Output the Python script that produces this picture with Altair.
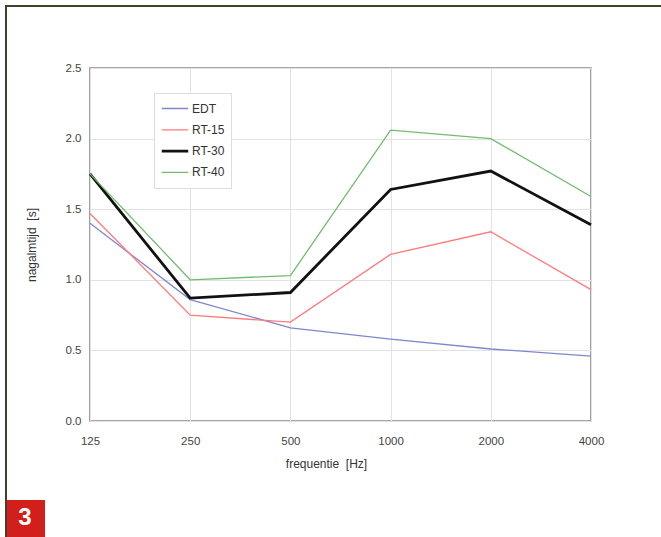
import altair as alt
import pandas as pd

# Octave-band centre frequencies (Hz)
frequencies = ["125", "250", "500", "1000", "2000", "4000"]

# Reverberation parameters per band (s)
edt = [1.40, 0.86, 0.66, 0.58, 0.51, 0.46]
rt15 = [1.47, 0.75, 0.70, 1.18, 1.34, 0.93]
rt30 = [1.75, 0.87, 0.91, 1.64, 1.77, 1.39]
rt40 = [1.75, 1.00, 1.03, 2.06, 2.00, 1.59]

series_names = ["EDT", "RT-15", "RT-30", "RT-40"]
series_colors = ["#7f86d0", "#ff7a7a", "#111111", "#72bb72"]
series_widths = [1.3, 1.3, 2.8, 1.3]

rows = []
for name, values in zip(series_names, [edt, rt15, rt30, rt40]):
    for f, v in zip(frequencies, values):
        rows.append({"freq": f, "series": name, "value": v})
df = pd.DataFrame(rows)

FONT = "Liberation Sans"
NB = "\u00a0"

legend_cfg = alt.Legend(
    title=None,
    orient="none",
    legendX=64,
    legendY=25,
    symbolType="stroke",
    symbolSize=700,
    clipHeight=19,
    labelFont=FONT,
    labelFontSize=12,
    labelColor="#333333",
    labelOffset=2,
    rowPadding=2.3,
    padding=6,
    strokeColor="#dddddd",
    fillColor="#ffffff",
)

lines = alt.Chart(df).mark_line().encode(
    x=alt.X(
        "freq:O",
        sort=frequencies,
        scale=alt.Scale(type="point", padding=0),
        axis=alt.Axis(
            title=f"frequentie{NB}{NB}[Hz]",
            labelAngle=0,
            labelPadding=14,
            titlePadding=12,
            titleX=236,
            grid=True,
        ),
    ),
    y=alt.Y(
        "value:Q",
        scale=alt.Scale(domain=[0, 2.5], nice=False),
        axis=alt.Axis(
            title=f"nagalmtijd{NB}{NB}[s]",
            values=[0, 0.5, 1.0, 1.5, 2.0, 2.5],
            format=".1f",
            labelPadding=9,
            titlePadding=27,
            grid=True,
        ),
    ),
    color=alt.Color(
        "series:N",
        sort=series_names,
        scale=alt.Scale(type="ordinal", domain=series_names, range=series_colors),
        legend=legend_cfg,
    ),
    strokeWidth=alt.StrokeWidth(
        "series:N",
        sort=series_names,
        scale=alt.Scale(type="ordinal", domain=series_names, range=series_widths),
        legend=legend_cfg,
    ),
)

# Page frame (top and left rules) and the figure number badge
frame_top = alt.Chart().mark_rule(color="#463d2e", strokeWidth=2).encode(
    x=alt.value(-85), x2=alt.value(580), y=alt.value(-62)
)
frame_left = alt.Chart().mark_rule(color="#463d2e", strokeWidth=2).encode(
    x=alt.value(-84), y=alt.value(-63), y2=alt.value(480)
)
badge = alt.Chart().mark_rect(color="#d21f1b").encode(
    x=alt.value(-83), x2=alt.value(-45), y=alt.value(432), y2=alt.value(480)
)
badge_text = alt.Chart().mark_text(
    text="3", color="white", font=FONT, fontWeight="bold", fontSize=24,
    align="center", baseline="middle",
).encode(x=alt.value(-65), y=alt.value(450))

chart = (
    alt.layer(lines, frame_top, frame_left, badge, badge_text)
    .properties(
        width=501,
        height=353,
        autosize=alt.AutoSizeParams(type="none"),
        padding={"left": 90, "top": 68, "right": 70, "bottom": 116},
        background="white",
    )
    .configure_view(stroke="#8a8a8a", strokeWidth=1.6)
    .configure_axis(
        labelFont=FONT,
        titleFont=FONT,
        labelFontSize=11.5,
        titleFontSize=12,
        titleFontWeight="normal",
        labelColor="#444444",
        titleColor="#333333",
        gridColor="#e2e2e2",
        gridWidth=1,
        domain=False,
        ticks=False,
    )
)

chart.save("out.html", embed_options={"renderer": "svg", "actions": False})
